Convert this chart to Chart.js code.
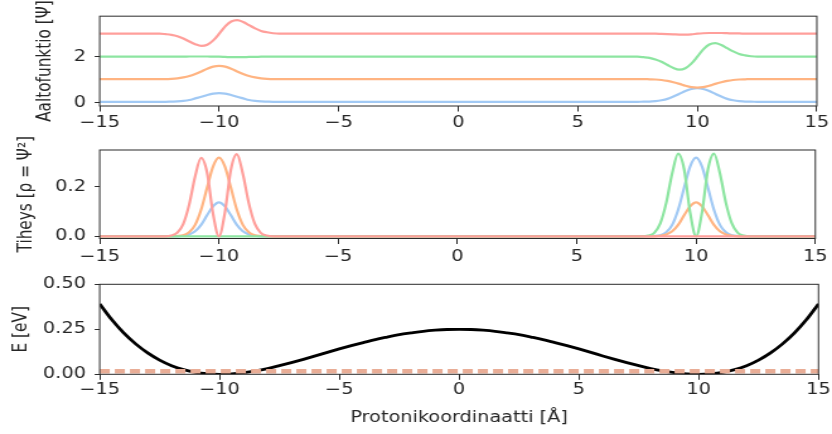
<!DOCTYPE html>
<html>
<head>
<meta charset="utf-8">
<title>Protonin aaltofunktiot</title>
<script src="https://cdn.jsdelivr.net/npm/chart.js@4.4.1/dist/chart.umd.min.js"></script>
<style>
  html, body { margin: 0; padding: 0; background: #fff; }
  body { width: 832px; height: 434px; position: relative; overflow: hidden; }
  .panel { position: absolute; left: 0; width: 660px; transform-origin: 0 0; }
</style>
</head>
<body>
<div class="panel" style="top:0;height:140px"><canvas id="psiChart"></canvas></div>
<div class="panel" style="top:125px;height:155px"><canvas id="rhoChart"></canvas></div>
<div class="panel" style="top:262px;height:172px"><canvas id="potChart"></canvas></div>
<script>
// x-grid shared by the wave functions and densities (dense around the two wells)
const gridX = [-15,
  -12.5, -12.25, -12, -11.75, -11.5, -11.25, -11, -10.75, -10.5, -10.25, -10,
  -9.75, -9.5, -9.25, -9, -8.75, -8.5, -8.25, -8, -7.75, -7.5,
  7.5, 7.75, 8, 8.25, 8.5, 8.75, 9, 9.25, 9.5, 9.75, 10,
  10.25, 10.5, 10.75, 11, 11.25, 11.5, 11.75, 12, 12.25, 12.5,
  15];

// wave functions, drawn with offsets 0, 1, 2, 3
const psi0 = [0.04,
  0.04, 0.04, 0.05, 0.06, 0.08, 0.12, 0.19, 0.26, 0.34, 0.40, 0.42, 0.40, 0.34, 0.26, 0.19, 0.12, 0.08, 0.06, 0.05, 0.04, 0.04,
  0.04, 0.05, 0.05, 0.07, 0.11, 0.17, 0.27, 0.39, 0.51, 0.60, 0.64, 0.60, 0.51, 0.39, 0.27, 0.17, 0.11, 0.07, 0.05, 0.05, 0.04,
  0.04];
const psi1 = [1.03,
  1.03, 1.03, 1.04, 1.06, 1.10, 1.16, 1.25, 1.36, 1.48, 1.57, 1.60, 1.57, 1.48, 1.36, 1.25, 1.16, 1.10, 1.06, 1.04, 1.03, 1.03,
  1.03, 1.03, 1.02, 1.01, 0.99, 0.95, 0.89, 0.82, 0.74, 0.68, 0.66, 0.68, 0.74, 0.82, 0.89, 0.95, 0.99, 1.01, 1.02, 1.03, 1.03,
  1.03];
const psi2 = [2.00,
  2.00, 2.00, 2.00, 2.00, 2.00, 2.01, 2.01, 2.01, 2.01, 2.00, 2.00, 1.99, 1.98, 1.98, 1.98, 1.99, 1.99, 2.00, 2.00, 2.00, 2.00,
  2.00, 1.98, 1.95, 1.88, 1.78, 1.64, 1.51, 1.44, 1.50, 1.70, 2.00, 2.32, 2.53, 2.59, 2.51, 2.37, 2.23, 2.12, 2.06, 2.02, 2.00,
  2.00];
const psi3 = [3.00,
  3.00, 2.98, 2.95, 2.89, 2.79, 2.66, 2.54, 2.47, 2.52, 2.71, 3.00, 3.32, 3.53, 3.59, 3.51, 3.37, 3.23, 3.12, 3.06, 3.02, 3.00,
  3.00, 3.00, 3.00, 3.00, 2.99, 2.98, 2.97, 2.96, 2.96, 2.97, 3.00, 3.02, 3.03, 3.03, 3.03, 3.02, 3.01, 3.01, 3.00, 3.00, 3.00,
  3.00];

// probability densities
const rho0 = [0,
  0, 0, 0, 0, 0.002, 0.007, 0.020, 0.046, 0.085, 0.121, 0.137, 0.121, 0.085, 0.046, 0.020, 0.007, 0.002, 0, 0, 0, 0,
  0, 0, 0, 0.001, 0.004, 0.016, 0.046, 0.107, 0.196, 0.282, 0.318, 0.282, 0.196, 0.107, 0.046, 0.016, 0.004, 0.001, 0, 0, 0,
  0];
const rho1 = [0,
  0, 0, 0, 0.001, 0.004, 0.016, 0.046, 0.107, 0.196, 0.282, 0.318, 0.282, 0.196, 0.107, 0.046, 0.016, 0.004, 0.001, 0, 0, 0,
  0, 0, 0, 0, 0.002, 0.007, 0.020, 0.046, 0.085, 0.121, 0.137, 0.121, 0.085, 0.046, 0.020, 0.007, 0.002, 0, 0, 0, 0,
  0];
const rho2 = [0,
  0, 0, 0, 0, 0, 0, 0, 0, 0, 0, 0, 0, 0, 0, 0, 0, 0, 0, 0, 0, 0,
  0, 0, 0.003, 0.014, 0.052, 0.135, 0.255, 0.334, 0.271, 0.097, 0, 0.097, 0.271, 0.334, 0.255, 0.135, 0.052, 0.014, 0.003, 0, 0,
  0];
const rho3 = [0,
  0, 0, 0.003, 0.014, 0.049, 0.128, 0.242, 0.317, 0.258, 0.092, 0, 0.097, 0.270, 0.332, 0.253, 0.134, 0.051, 0.014, 0.003, 0, 0,
  0, 0, 0, 0, 0, 0, 0, 0, 0, 0, 0, 0, 0, 0, 0, 0, 0, 0, 0, 0, 0,
  0];

// double-well potential (step 0.5) and the energy level
const potX = [-15, -14.5, -14, -13.5, -13, -12.5, -12, -11.5, -11, -10.5, -10, -9.5, -9, -8.5, -8, -7.5,
  -7, -6.5, -6, -5.5, -5, -4.5, -4, -3.5, -3, -2.5, -2, -1.5, -1, -0.5, 0,
  0.5, 1, 1.5, 2, 2.5, 3, 3.5, 4, 4.5, 5, 5.5, 6, 6.5, 7,
  7.5, 8, 8.5, 9, 9.5, 10, 10.5, 11, 11.5, 12, 12.5, 13, 13.5, 14, 14.5, 15];
const potE = [0.391, 0.304, 0.230, 0.169, 0.119, 0.079, 0.048, 0.026, 0.011, 0.003, 0, 0.002, 0.009, 0.019, 0.032, 0.048,
  0.065, 0.083, 0.102, 0.122, 0.141, 0.159, 0.176, 0.193, 0.207, 0.220, 0.230, 0.239, 0.245, 0.249, 0.250,
  0.249, 0.245, 0.239, 0.230, 0.220, 0.207, 0.193, 0.176, 0.159, 0.141, 0.122, 0.102, 0.083, 0.065,
  0.048, 0.032, 0.019, 0.009, 0.002, 0, 0.003, 0.011, 0.026, 0.048, 0.079, 0.119, 0.169, 0.230, 0.304, 0.391];
const levelX = [-15, 15];
const levelE = [0.017, 0.017];

// tick labels
const xTicks = [-15, -10, -5, 0, 5, 10, 15];
const psiTicks = [0, 2];
const rhoTicks = [0, 0.2];
const potTicks = [0, 0.25, 0.5];

const C_BLUE = '#a1c9f4';
const C_ORANGE = '#ffb482';
const C_GREEN = '#8de5a1';
const C_RED = '#ff9f9b';
const C_LEVEL = '#e9ad96';

const PANEL_W = 660;
const SX = 832 / PANEL_W;        // panels are drawn narrow and stretched sideways
const FONT = { family: "'DejaVu Sans', sans-serif", size: 15.3 };
const INK = '#262626';
const AXIS = '#2b2b2b';

document.querySelectorAll('.panel').forEach(el => { el.style.transform = 'scaleX(' + SX + ')'; });

const pts = (xs, ys) => xs.map((x, i) => ({ x: x, y: ys[i] }));
const fmtMinus = v => (v < 0 ? '\u2212' + Math.abs(v) : String(v));

// full box around the plot area
const framePlugin = {
  id: 'frame',
  afterDatasetsDraw(chart) {
    const { ctx, chartArea: a } = chart;
    ctx.save();
    ctx.strokeStyle = AXIS;
    ctx.lineWidth = 1;
    ctx.strokeRect(a.left, a.top, a.right - a.left, a.bottom - a.top);
    ctx.restore();
  }
};

function makePanel(id, cfg) {
  return new Chart(document.getElementById(id), {
    type: 'line',
    data: { datasets: cfg.datasets },
    options: {
      responsive: true,
      maintainAspectRatio: false,
      animation: false,
      events: [],
      layout: { padding: { left: 0, top: cfg.top, right: PANEL_W - 819.5 / SX, bottom: 0 } },
      plugins: { legend: { display: false }, tooltip: { enabled: false } },
      elements: {
        point: { radius: 0 },
        line: { cubicInterpolationMode: 'monotone', borderCapStyle: 'butt' }
      },
      scales: {
        x: {
          type: 'linear',
          min: -15,
          max: 15,
          afterBuildTicks: s => { s.ticks = xTicks.map(v => ({ value: v })); },
          afterFit: s => { s.height = cfg.xHeight; },
          grid: { drawOnChartArea: false, tickLength: 5.5, tickColor: AXIS },
          border: { display: false },
          ticks: { font: FONT, color: INK, padding: cfg.xPad, maxRotation: 0, autoSkip: false, callback: fmtMinus },
          title: cfg.xTitle
            ? { display: true, text: cfg.xTitle, font: FONT, color: INK, padding: { top: 0, bottom: 7.2 } }
            : { display: false }
        },
        y: {
          type: 'linear',
          min: cfg.yMin,
          max: cfg.yMax,
          afterBuildTicks: s => { s.ticks = cfg.yTicks.map(v => ({ value: v })); },
          afterFit: s => { s.width = 99.7 / SX; },
          grid: { drawOnChartArea: false, tickLength: 5 / SX, tickColor: AXIS },
          border: { display: false },
          ticks: { font: FONT, color: INK, padding: 7, callback: cfg.yFormat },
          title: {
            display: true, text: cfg.yTitle, font: FONT, color: INK,
            padding: { top: cfg.yTitleX / SX - 9.18, bottom: 0 }
          }
        }
      }
    },
    plugins: [framePlugin]
  });
}

const line = (xs, ys, color, width, order) => ({
  data: pts(xs, ys), borderColor: color, borderWidth: width, fill: false, order: order
});

// 1. wave functions
makePanel('psiChart', {
  top: 15, xHeight: 34, xPad: 2.3,
  yMin: -0.14, yMax: 3.76, yTicks: psiTicks, yFormat: v => String(v),
  yTitle: 'Aaltofunktio [\u03A8]', yTitleX: 45,
  datasets: [
    line(gridX, psi0, C_BLUE, 2.2, 4),
    line(gridX, psi1, C_ORANGE, 2.2, 3),
    line(gridX, psi2, C_GREEN, 2.2, 2),
    line(gridX, psi3, C_RED, 2.2, 1)
  ]
});

// 2. densities
makePanel('rhoChart', {
  top: 25, xHeight: 41.5, xPad: 3.5,
  yMin: -0.009, yMax: 0.349, yTicks: rhoTicks, yFormat: v => v.toFixed(1),
  yTitle: 'Tiheys [\u03C1 = \u03A8\u00B2]', yTitleX: 26,
  datasets: [
    line(gridX, rho0, C_BLUE, 2.2, 4),
    line(gridX, rho1, C_ORANGE, 2.2, 3),
    line(gridX, rho2, C_GREEN, 2.2, 2),
    line(gridX, rho3, C_RED, 2.2, 1)
  ]
});

// 3. potential with the energy level on top
makePanel('potChart', {
  top: 22.3, xHeight: 59.7, xPad: 1,
  yMin: 0, yMax: 0.5, yTicks: potTicks, yFormat: v => v.toFixed(2),
  yTitle: 'E [eV]', yTitleX: 22,
  xTitle: 'Protonikoordinaatti [\u00C5]',
  datasets: [
    Object.assign(line(levelX, levelE, C_LEVEL, 4.5, 0), { borderDash: [8, 4] }),
    line(potX, potE, '#000000', 2.8, 1)
  ]
});
</script>
</body>
</html>
